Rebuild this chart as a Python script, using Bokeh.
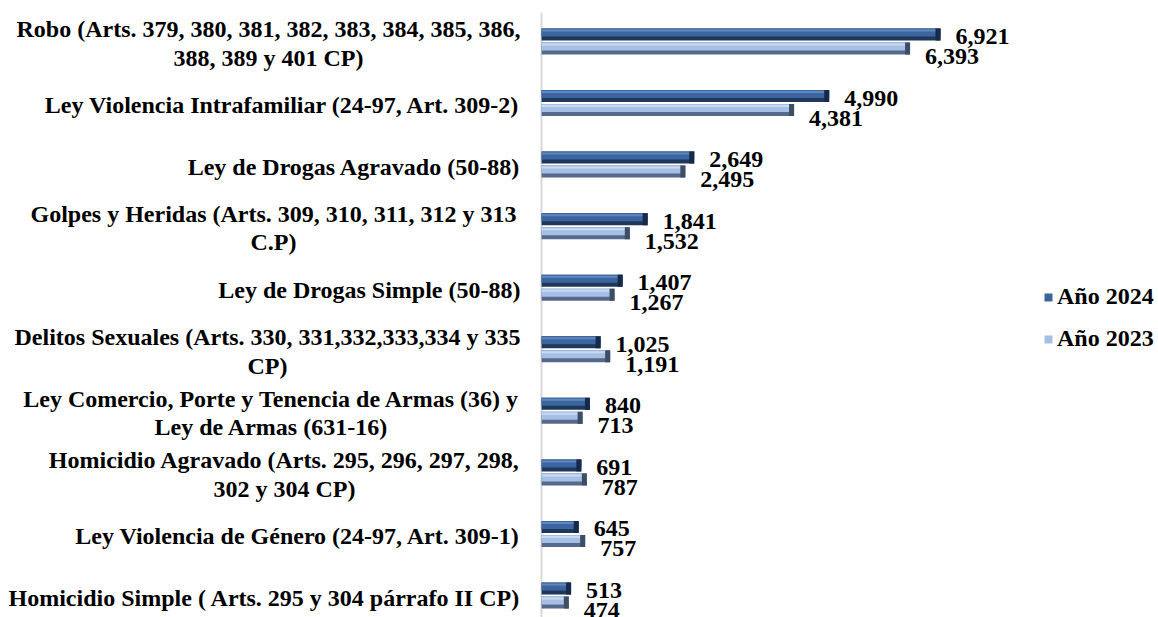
from bokeh.plotting import figure
from bokeh.models import Range1d, ColumnDataSource, Legend, LegendItem, Segment
from bokeh.transform import dodge
from bokeh.core.properties import value
from bokeh.embed import file_html
from bokeh.resources import INLINE

# ---------------- data ----------------
categories = [
    "Robo (Arts. 379, 380, 381, 382, 383, 384, 385, 386,\n388, 389 y 401 CP)",
    "Ley Violencia Intrafamiliar (24-97, Art. 309-2)",
    "Ley de Drogas Agravado (50-88)",
    "Golpes y Heridas (Arts. 309, 310, 311, 312 y 313\nC.P)",
    "Ley de Drogas Simple (50-88)",
    "Delitos Sexuales (Arts. 330, 331,332,333,334 y 335\nCP)",
    "Ley Comercio, Porte y Tenencia de Armas (36) y\nLey de Armas (631-16)",
    "Homicidio Agravado (Arts. 295, 296, 297, 298,\n302 y 304 CP)",
    "Ley Violencia de Género (24-97, Art. 309-1)",
    "Homicidio Simple ( Arts. 295 y 304 párrafo II CP)",
]
anio_2024 = [6921, 4990, 2649, 1841, 1407, 1025, 840, 691, 645, 513]
anio_2023 = [6393, 4381, 2495, 1532, 1267, 1191, 713, 787, 757, 474]
series_names = ["Año 2024", "Año 2023"]

# ---------------- layout constants ----------------
W, H = 1158, 617
ZERO_PX = 541          # frame x of value 0
PX_PER_UNIT = 0.05765  # horizontal scale
FIRST_PX = 41          # frame y of first category centre
STEP_PX = 61.56        # category pitch
PXX = 1.0 / PX_PER_UNIT
PXY = 1.0 / STEP_PX
FONT = "Liberation Serif"

idx = list(range(len(categories)))
src = ColumnDataSource(dict(
    idx=idx,
    cat=categories,
    v24=anio_2024,
    v23=anio_2023,
    l24=[f"{v:,}" for v in anio_2024],
    l23=[f"{v:,}" for v in anio_2023],
))

x0 = -ZERO_PX * PXX
x1 = (W - ZERO_PX) * PXX
y_top = -FIRST_PX * PXY
y_bot = (H - FIRST_PX) * PXY

p = figure(width=W, height=H, x_range=Range1d(x0, x1), y_range=Range1d(y_bot, y_top),
           output_backend="svg", toolbar_location=None, min_border=0,
           x_axis_location=None, y_axis_location=None)
p.grid.visible = False
p.outline_line_color = None
p.background_fill_color = "white"

# vertical axis line
axsrc = ColumnDataSource(dict(x0=[0], y0=[y_top + 12 * PXY], x1=[0], y1=[y_bot + 1]))
p.add_glyph(axsrc, Segment(x0="x0", y0="y0", x1="x1", y1="y1", line_color="#d9d9d9", line_width=2))

# bevelled bars
styles = {
    "v24": dict(off=-7, dark="#1f3759", main="#3c65a0", light="#5f88c0", cap="#16294a"),
    "v23": dict(off=7, dark="#56698a", main="#a5c0e4", light="#c9dbf2", cap="#3d4d66"),
}
main_renderers = {}
for col, st in styles.items():
    off = st["off"]
    p.hbar(y=dodge("idx", off * PXY), left=1, right=col, height=12 * PXY,
           fill_color=st["dark"], line_color=None, source=src)
    r = p.hbar(y=dodge("idx", (off - 2) * PXY), left=1, right=col, height=8 * PXY,
               fill_color=st["main"], line_color=None, source=src)
    main_renderers[col] = r
    p.hbar(y=dodge("idx", (off - 4) * PXY), left=1, right=col, height=2 * PXY,
           fill_color=st["light"], line_color=None, source=src)
    p.hbar(y=dodge("idx", off * PXY), left=dodge(col, -5 * PXX), right=col, height=12 * PXY,
           fill_color=st["cap"], line_color=None, source=src)

# value labels
p.text(x="v24", y="idx", text="l24", x_offset=15, y_offset=-5, text_align="left",
       text_baseline="middle", text_font=value(FONT), text_font_style="bold",
       text_font_size="24px", text_color="black", source=src)
p.text(x="v23", y="idx", text="l23", x_offset=15, y_offset=15, text_align="left",
       text_baseline="middle", text_font=value(FONT), text_font_style="bold",
       text_font_size="24px", text_color="black", source=src)

# category labels: single line right-aligned, two-line centred blocks
RIGHT_EDGE = -21
block_centre = {0: -273, 3: -268, 5: -274, 6: -270, 7: -257}
single = dict(idx=[], cat=[])
multi = dict(idx=[], cat=[], xo=[])
for i, c in enumerate(categories):
    if "\n" in c:
        multi["idx"].append(i); multi["cat"].append(c); multi["xo"].append(block_centre[i])
    else:
        single["idx"].append(i); single["cat"].append(c)
ssrc = ColumnDataSource(dict(x=[0] * len(single["idx"]), **single))
msrc = ColumnDataSource(dict(x=[0] * len(multi["idx"]), **multi))
p.text(x="x", y="idx", text="cat", x_offset=RIGHT_EDGE, y_offset=2, text_align="right",
       text_baseline="middle", text_font=value(FONT), text_font_style="bold",
       text_font_size="24px", text_color="black", source=ssrc)
p.text(x="x", y="idx", text="cat", x_offset="xo", y_offset=2, text_align="center",
       text_baseline="middle", text_font=value(FONT), text_font_style="bold",
       text_font_size="24px", text_color="black", text_line_height=1.1, source=msrc)

legend = Legend(items=[LegendItem(label=series_names[0], renderers=[main_renderers["v24"]]),
                       LegendItem(label=series_names[1], renderers=[main_renderers["v23"]])],
                location=(1043, 265), glyph_width=10, glyph_height=10, label_standoff=4,
                spacing=15, padding=0, margin=0, border_line_color=None,
                background_fill_alpha=0, label_text_font=FONT, label_text_font_style="bold",
                label_text_font_size="24px", label_text_color="black")
p.add_layout(legend)

open("out.html", "w").write(file_html(p, INLINE))
